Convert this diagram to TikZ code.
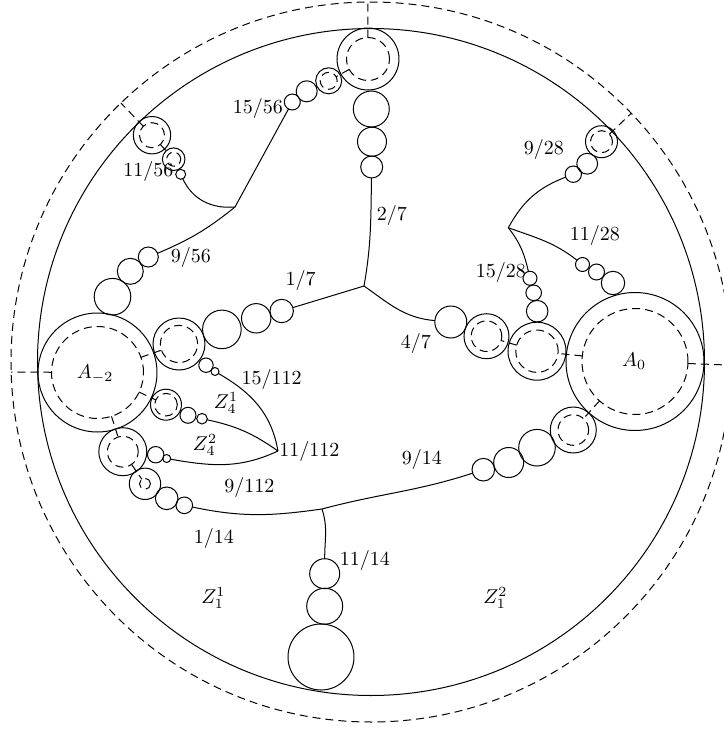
\documentclass[tikz,border=0pt]{standalone}
\tikzstyle{every path}=[line width=0.5pt]
\tikzstyle{comp}=[draw,circle,inner sep=0pt,outer sep=0pt]
\tikzstyle{hole}=[draw,circle,inner sep=0pt,outer sep=0pt,dash pattern=on 4pt off 2.5pt]
\tikzstyle{seam}=[dash pattern=on 4pt off 2.5pt]
\tikzstyle{rim}=[dash pattern=on 4pt off 2.5pt]

\begin{document}
\begin{tikzpicture}[x=0.5pt,y=0.5pt]
  \useasboundingbox (-371,-368) rectangle (353,362);
  % rim and unit circle
  \draw[rim] (0,0) circle (360);
  \draw (0,0) circle (333.5);
  % components (name/x/y/radius)
  \foreach \n/\x/\y/\r in {am/-273.5/-10.5/59.5, a0/264/0.5/69,
      t/-3/303/31, c27a/0.3/253/18, c27b/1/220.3/14.5, c27c/0.7/195/11,
      c1556a/-42.3/281.2/13, c1556b/-64.3/270.7/10.5, c1556c/-78.7/260/8,
      c1156a/-219/226.8/18.7, c1156b/-197.3/202.8/11.3, c1156c/-190.3/187.7/5,
      c956a/-222.7/105/10, c956b/-240.7/90.7/13, c956c/-258.5/65.3/18.3,
      c17a/-192/18/26, c17b/-149.1/32.6/19.3, c17c/-114.8/43.7/14.7, c17d/-89.3/51/11.7,
      c47a/79.8/40/16, c47b/115.5/25.8/22.5,
      c1528d/166/10.8/29, c1528c/166.2/50.8/10.8, c1528b/162.7/69.2/7.8, c1528a/159/83.7/7,
      c928a/202.3/187.8/8.2, c928b/216.2/198.3/10.4, c928c/230.5/220.3/16,
      c1128a/211.5/97.5/7, c1128b/225.5/90/8, c1128c/242/79/11.7,
      c914a/202.3/-68/23, c914b/166/-85.7/18.3, c914c/137.7/-100.5/15, c914d/112.3/-107.7/11.3,
      c1114a/-46.3/-211.7/15, c1114b/-46.3/-244.2/18, c1114c/-50/-295/33,
      z41a/-205/-42.7/15.5, z41b/-183/-53.3/8, z41c/-169/-56.7/5.3,
      c15112a/-165/-3.2/7.2, c15112b/-156/-9.5/4,
      z42a/-248.2/-89.7/24, z42b/-215.3/-92.7/8.2, z42c/-204.3/-96.5/4,
      c114a/-226/-121.8/15.7, c114b/-204.3/-136.3/11.3, c114c/-186.7/-143.3/8.3}
    \node[comp,minimum size=\r pt] (\n) at (\x,\y) {};
  % dashed cores
  \foreach \n/\r in {am/46, a0/53, t/21.5, c1556a/8.5, c1156a/12.5, c1156b/7,
      c928c/11, c17a/18.6, z41a/11.3, z42a/15.4, c114a/5.5, c1528d/21.2,
      c47b/15.3, c914a/15.3}
    \node[hole,minimum size=\r pt] (\n-h) at (\n) {};
  \foreach \a/\b in {t/c1556a, c1156a/c1156b, am/c17a, am/z41a, am/z42a,
      z42a/c114a, a0/c1528d, c1528d/c47b, a0/c914a}
    \draw[seam] (\a-h) -- (\b-h);
  % rays to the rim
  \coordinate (rt) at (90.5:360);
  \coordinate (rr) at (-0.5:360);
  \coordinate (rl) at (181.6:360);
  \coordinate (rul) at (134:360);
  \coordinate (rur) at (43.7:360);
  \foreach \a/\b in {t/rt, a0/rr, am/rl, c1156a/rul, c928c/rur}
    \draw[seam] (\a-h) -- (\b);
  % junctions
  \coordinate (j0) at (-7,76);
  \coordinate (j1) at (-136,155);
  \coordinate (j2) at (137.3,134.3);
  \coordinate (j3) at (-93,-89);
  \coordinate (j4) at (-49,-147);
  \draw (c27c) to[out=-91,in=80] (j0);
  \draw (c17d) -- (j0);
  \draw (j0) to[out=-35,in=175] (c47a);
  \draw (c1556c) -- (j1);
  \draw (j1) to[out=185,in=-65] (c1156c);
  \draw (j1) to[bend left=8] (c956a);
  \draw (c1528a) to[out=103,in=-52] (j2);
  \draw (j2) to[out=61,in=201] (c928a);
  \draw (j2) to[out=-20,in=142] (c1128a);
  \draw (c914d) to[out=198,in=15] (j4);
  \draw (j4) to[out=188,in=-12] (c114c);
  \draw (j4) to[out=-72,in=90] (c1114a);
  \draw (c15112b) to[out=-30,in=100] (j3);
  \draw (z41c) to[out=-12,in=145] (j3);
  \draw (z42c) to[out=-10,in=205] (j3);
  % labels
  \node (lam) at (-276,-12) {$A_{-2}$};
  \node (la0) at (263,1) {$A_0$};
  \node (l27) at (21,147) {$2/7$};
  \node (l17) at (-70.3,82) {$1/7$};
  \node (l47) at (45,18.7) {$4/7$};
  \node (l1556) at (-113,254) {$15/56$};
  \node (l1156) at (-222.7,190.3) {$11/56$};
  \node (l956) at (-180,104.7) {$9/56$};
  \node (l928) at (173,212.7) {$9/28$};
  \node (l1128) at (224,127) {$11/28$};
  \node (l1528) at (130,90) {$15/28$};
  \node (l15112) at (-99.3,-17.3) {$15/112$};
  \node (lz41) at (-145,-41.3) {$Z_4^1$};
  \node (lz42) at (-166,-83) {$Z_4^2$};
  \node[anchor=west,inner sep=0.5pt] (l11112) at (j3) {$11/112$};
  \node (l9112) at (-121.7,-125.3) {$9/112$};
  \node (l914) at (51,-97.3) {$9/14$};
  \node (l114) at (-157,-176.3) {$1/14$};
  \node (l1114) at (-6,-198) {$11/14$};
  \node (lz11) at (-157.7,-236.3) {$Z_1^1$};
  \node (lz12) at (124.3,-236.3) {$Z_1^2$};
\end{tikzpicture}
\end{document}
